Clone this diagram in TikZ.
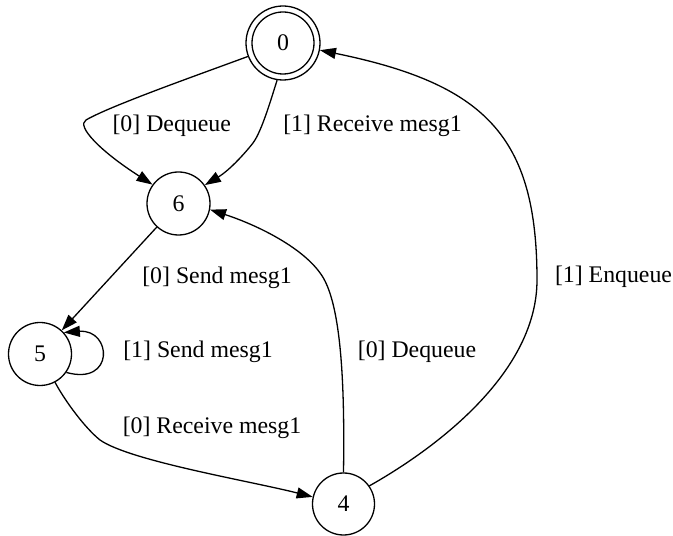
\documentclass[tikz,border=0pt]{standalone}
\usepackage{fontspec}
\setmainfont{Liberation Serif}
\usetikzlibrary{arrows.meta}
\begin{document}
\begin{tikzpicture}[x=1pt,y=1pt,
  every node/.style={font=\fontsize{23.8}{28}\selectfont},
  state/.style={draw, circle, line width=1.3pt, minimum size=63pt, inner sep=0pt},
  edge/.style={line width=1.3pt, -{Triangle[length=16pt,width=11pt]}},
  lbl/.style={inner sep=0pt}]
\useasboundingbox (0,0) rectangle (673,536);
% states
\node[state, minimum size=74pt] (n0) at (283,493) {0};
\draw[line width=1.3pt] (n0.center) circle (31pt);
\node[state] (n6) at (178.5,332.5) {6};
\node[state] (n5) at (40,182) {5};
\node[state, minimum size=62pt] (n4) at (343.5,32) {4};
% edges
\draw[edge] (n0.201.5) .. controls (195,460) and (110,430) .. (86,416)
  .. controls (76,410) and (100,385) .. (n6.144);
\draw[edge] (n0.261) .. controls (272,440) and (262,405) .. (253,393)
  .. controls (246,384) and (230,366) .. (n6.35);
\draw[edge] (n6) -- (n5);
\draw[edge] (n5.-35) .. controls (115,150) and (112,207) .. (n5.42);
\draw[edge] (n5.-62) .. controls (65,135) and (85,108) .. (100,96)
  .. controls (130,75) and (250,55) .. (n4.167);
\draw[edge] (n4.90) .. controls (345,160) and (340,225) .. (325,255)
  .. controls (310,285) and (260,310) .. (n6.-11);
\draw[edge] (n4.35.6) .. controls (440,90) and (537,165) .. (537,256)
  .. controls (537,400) and (485,452) .. (n0.-11);
% labels
\node[lbl] (l1) at (171.7,410) {[0] Dequeue};
\node[lbl] (l2) at (372.5,410) {[1] Receive mesg1};
\node[lbl] (l3) at (217,258) {[0] Send mesg1};
\node[lbl] (l4) at (198,184) {[1] Send mesg1};
\node[lbl] (l5) at (212,108) {[0] Receive mesg1};
\node[lbl] (l6) at (417,184) {[0] Dequeue};
\node[lbl] (l7) at (613.5,259) {[1] Enqueue};
\end{tikzpicture}
\end{document}
